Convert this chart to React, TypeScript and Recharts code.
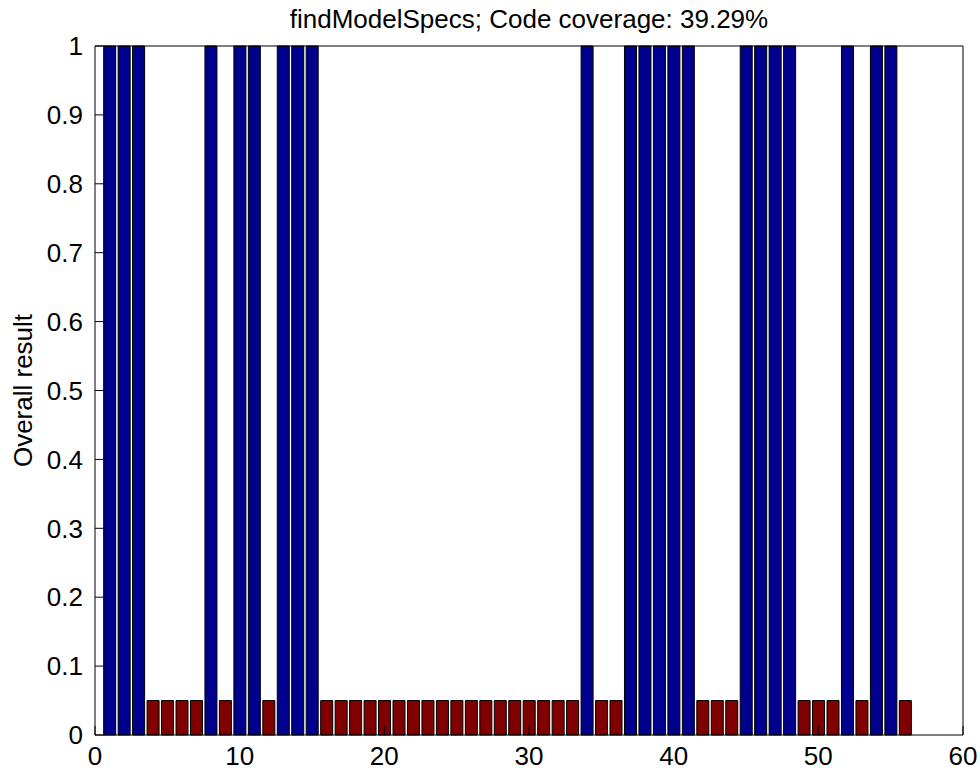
import { BarChart, Bar, XAxis, YAxis, Cell } from 'recharts';

// 1 = test passed, 0.05 = test failed (drawn as a short stub)
const testIds = Array.from({ length: 56 }, (_, i) => i + 1);
const results = [
  1, 1, 1, 0.05, 0.05, 0.05, 0.05, 1, 0.05, 1,
  1, 0.05, 1, 1, 1, 0.05, 0.05, 0.05, 0.05, 0.05,
  0.05, 0.05, 0.05, 0.05, 0.05, 0.05, 0.05, 0.05, 0.05, 0.05,
  0.05, 0.05, 0.05, 1, 0.05, 0.05, 1, 1, 1, 1,
  1, 0.05, 0.05, 0.05, 1, 1, 1, 1, 0.05, 0.05,
  0.05, 1, 0.05, 1, 1, 0.05,
];
const xTicks = [0, 10, 20, 30, 40, 50, 60];
const yTicks = [0, 0.1, 0.2, 0.3, 0.4, 0.5, 0.6, 0.7, 0.8, 0.9, 1];
const title = 'findModelSpecs; Code coverage: 39.29%';

const PASS = '#00008f';
const FAIL = '#800000';
const FONT = '"Liberation Sans", Arial, sans-serif';

const chartData = testIds.map((id, i) => ({ id, result: results[i] }));

const axisStyle = { stroke: '#000', strokeWidth: 1 };
const tickStyle = { fill: '#000', fontSize: 26, fontFamily: FONT };

export default function App() {
  return (
    <div style={{ position: 'absolute', left: 0, top: 0, background: '#fff' }}>
      <BarChart
        width={980}
        height={773}
        data={chartData}
        margin={{ top: 45, right: 16, left: 35, bottom: 0 }}
        barCategoryGap="10%"
      >
        <XAxis
          dataKey="id"
          type="number"
          domain={[0, 60]}
          ticks={xTicks}
          allowDataOverflow
          height={38}
          tickSize={-9}
          tickMargin={21}
          axisLine={axisStyle}
          tickLine={axisStyle}
          tick={tickStyle}
        />
        <XAxis
          xAxisId="top"
          orientation="top"
          type="number"
          domain={[0, 60]}
          ticks={xTicks}
          height={1}
          tickSize={-9}
          axisLine={axisStyle}
          tickLine={axisStyle}
          tick={false}
          label={{
            value: title,
            position: 'top',
            offset: 17,
            fill: '#000',
            fontSize: 26,
            fontFamily: FONT,
          }}
        />
        <YAxis
          type="number"
          domain={[0, 1]}
          ticks={yTicks}
          width={60}
          tickSize={-9}
          tickMargin={21}
          axisLine={axisStyle}
          tickLine={axisStyle}
          tick={tickStyle}
          tickFormatter={(v: number) => String(v)}
          label={({ viewBox }: any) => {
            const cx = viewBox.x - 3;
            const cy = viewBox.y + viewBox.height / 2;
            return (
              <text
                x={cx}
                y={cy}
                transform={`rotate(-90, ${cx}, ${cy})`}
                textAnchor="middle"
                fill="#000"
                fontSize={26}
                fontFamily={FONT}
              >
                Overall result
              </text>
            );
          }}
        />
        <YAxis
          yAxisId="right"
          orientation="right"
          type="number"
          domain={[0, 1]}
          ticks={yTicks}
          width={1}
          tickSize={-9}
          axisLine={axisStyle}
          tickLine={axisStyle}
          tick={false}
        />
        <Bar dataKey="result" stroke="#000" strokeWidth={1} isAnimationActive={false}>
          {chartData.map((d) => (
            <Cell key={d.id} fill={d.result >= 1 ? PASS : FAIL} />
          ))}
        </Bar>
      </BarChart>
    </div>
  );
}
